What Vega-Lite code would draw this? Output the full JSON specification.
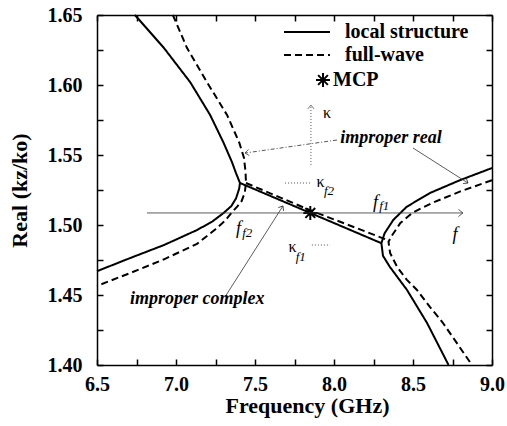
{
  "$schema": "https://vega.github.io/schema/vega-lite/v6.json",
  "width": 395,
  "height": 350,
  "autosize": "none",
  "padding": {"left": 97, "top": 15, "right": 15, "bottom": 61},
  "config": {
    "view": {"stroke": null},
    "font": "Liberation Serif",
    "axis": {"labelFont": "Liberation Serif", "titleFont": "Liberation Serif"},
    "legend": {"labelFont": "Liberation Serif"},
    "text": {"font": "Liberation Serif"}
  },
  "datasets": {
    "curves": [
      {"series": "local structure", "seg": "L", "i": 1, "f": 6.74, "v": 1.65},
      {"series": "local structure", "seg": "L", "i": 2, "f": 6.924, "v": 1.6264},
      {"series": "local structure", "seg": "L", "i": 3, "f": 7.09, "v": 1.602},
      {"series": "local structure", "seg": "L", "i": 4, "f": 7.216, "v": 1.5786},
      {"series": "local structure", "seg": "L", "i": 5, "f": 7.3, "v": 1.559},
      {"series": "local structure", "seg": "L", "i": 6, "f": 7.354, "v": 1.545},
      {"series": "local structure", "seg": "L", "i": 7, "f": 7.38, "v": 1.537},
      {"series": "local structure", "seg": "L", "i": 8, "f": 7.405, "v": 1.53},
      {"series": "local structure", "seg": "L", "i": 9, "f": 7.4, "v": 1.526},
      {"series": "local structure", "seg": "L", "i": 10, "f": 7.38, "v": 1.519},
      {"series": "local structure", "seg": "L", "i": 11, "f": 7.35, "v": 1.5135},
      {"series": "local structure", "seg": "L", "i": 12, "f": 7.3, "v": 1.5085},
      {"series": "local structure", "seg": "L", "i": 13, "f": 7.23, "v": 1.5025},
      {"series": "local structure", "seg": "L", "i": 14, "f": 7.133, "v": 1.4964},
      {"series": "local structure", "seg": "L", "i": 15, "f": 6.924, "v": 1.4857},
      {"series": "local structure", "seg": "L", "i": 16, "f": 6.71, "v": 1.4764},
      {"series": "local structure", "seg": "L", "i": 17, "f": 6.5, "v": 1.467},
      {"series": "local structure", "seg": "M", "i": 1, "f": 7.405, "v": 1.53},
      {"series": "local structure", "seg": "M", "i": 2, "f": 7.85, "v": 1.5086},
      {"series": "local structure", "seg": "M", "i": 3, "f": 8.3, "v": 1.487},
      {"series": "local structure", "seg": "R", "i": 1, "f": 9.0, "v": 1.5407},
      {"series": "local structure", "seg": "R", "i": 2, "f": 8.797, "v": 1.532},
      {"series": "local structure", "seg": "R", "i": 3, "f": 8.608, "v": 1.5229},
      {"series": "local structure", "seg": "R", "i": 4, "f": 8.46, "v": 1.513},
      {"series": "local structure", "seg": "R", "i": 5, "f": 8.375, "v": 1.5036},
      {"series": "local structure", "seg": "R", "i": 6, "f": 8.32, "v": 1.494},
      {"series": "local structure", "seg": "R", "i": 7, "f": 8.3, "v": 1.487},
      {"series": "local structure", "seg": "R", "i": 8, "f": 8.31, "v": 1.478},
      {"series": "local structure", "seg": "R", "i": 9, "f": 8.354, "v": 1.47},
      {"series": "local structure", "seg": "R", "i": 10, "f": 8.462, "v": 1.4536},
      {"series": "local structure", "seg": "R", "i": 11, "f": 8.589, "v": 1.43},
      {"series": "local structure", "seg": "R", "i": 12, "f": 8.725, "v": 1.4},
      {"series": "full-wave", "seg": "L", "i": 1, "f": 6.98, "v": 1.65},
      {"series": "full-wave", "seg": "L", "i": 2, "f": 7.07, "v": 1.6264},
      {"series": "full-wave", "seg": "L", "i": 3, "f": 7.196, "v": 1.602},
      {"series": "full-wave", "seg": "L", "i": 4, "f": 7.323, "v": 1.5786},
      {"series": "full-wave", "seg": "L", "i": 5, "f": 7.4, "v": 1.559},
      {"series": "full-wave", "seg": "L", "i": 6, "f": 7.43, "v": 1.548},
      {"series": "full-wave", "seg": "L", "i": 7, "f": 7.44, "v": 1.538},
      {"series": "full-wave", "seg": "L", "i": 8, "f": 7.443, "v": 1.53},
      {"series": "full-wave", "seg": "L", "i": 9, "f": 7.435, "v": 1.523},
      {"series": "full-wave", "seg": "L", "i": 10, "f": 7.415, "v": 1.517},
      {"series": "full-wave", "seg": "L", "i": 11, "f": 7.39, "v": 1.5135},
      {"series": "full-wave", "seg": "L", "i": 12, "f": 7.35, "v": 1.5085},
      {"series": "full-wave", "seg": "L", "i": 13, "f": 7.31, "v": 1.503},
      {"series": "full-wave", "seg": "L", "i": 14, "f": 7.25, "v": 1.497},
      {"series": "full-wave", "seg": "L", "i": 15, "f": 7.133, "v": 1.4865},
      {"series": "full-wave", "seg": "L", "i": 16, "f": 6.924, "v": 1.4755},
      {"series": "full-wave", "seg": "L", "i": 17, "f": 6.71, "v": 1.4657},
      {"series": "full-wave", "seg": "L", "i": 18, "f": 6.5, "v": 1.4565},
      {"series": "full-wave", "seg": "M", "i": 1, "f": 7.443, "v": 1.53},
      {"series": "full-wave", "seg": "M", "i": 2, "f": 7.85, "v": 1.5105},
      {"series": "full-wave", "seg": "M", "i": 3, "f": 8.345, "v": 1.489},
      {"series": "full-wave", "seg": "R", "i": 1, "f": 9.0, "v": 1.532},
      {"series": "full-wave", "seg": "R", "i": 2, "f": 8.8, "v": 1.524},
      {"series": "full-wave", "seg": "R", "i": 3, "f": 8.627, "v": 1.516},
      {"series": "full-wave", "seg": "R", "i": 4, "f": 8.5, "v": 1.509},
      {"series": "full-wave", "seg": "R", "i": 5, "f": 8.42, "v": 1.5014},
      {"series": "full-wave", "seg": "R", "i": 6, "f": 8.367, "v": 1.4925},
      {"series": "full-wave", "seg": "R", "i": 7, "f": 8.345, "v": 1.488},
      {"series": "full-wave", "seg": "R", "i": 8, "f": 8.355, "v": 1.48},
      {"series": "full-wave", "seg": "R", "i": 9, "f": 8.4, "v": 1.47},
      {"series": "full-wave", "seg": "R", "i": 10, "f": 8.46, "v": 1.461},
      {"series": "full-wave", "seg": "R", "i": 11, "f": 8.525, "v": 1.4536},
      {"series": "full-wave", "seg": "R", "i": 12, "f": 8.608, "v": 1.4414},
      {"series": "full-wave", "seg": "R", "i": 13, "f": 8.69, "v": 1.43},
      {"series": "full-wave", "seg": "R", "i": 14, "f": 8.873, "v": 1.4}
    ]
  },
  "layer": [
    {
      "data": {"name": "curves"},
      "mark": {"type": "line", "color": "black", "strokeWidth": 2},
      "encoding": {
        "x": {
          "field": "f", "type": "quantitative",
          "scale": {"domain": [6.5, 9.0], "nice": false, "zero": false},
          "axis": {
            "orient": "bottom",
            "values": [6.5, 6.75, 7, 7.25, 7.5, 7.75, 8, 8.25, 8.5, 8.75, 9],
            "labelExpr": "(round(datum.value*100) % 50 == 0) ? format(datum.value,'.1f') : ''",
            "tickSize": -6, "tickColor": "black", "tickWidth": 1.5,
            "domainColor": "black", "domainWidth": 1.5, "grid": false,
            "labelFont": "Liberation Serif", "labelFontSize": 20, "labelFontWeight": "bold", "labelColor": "black",
            "labelPadding": 15, "labelOverlap": false, "labelFlush": false,
            "title": "Frequency (GHz)", "titleFont": "Liberation Serif", "titleFontSize": 22, "titleFontWeight": "bold",
            "titleColor": "black", "titlePadding": 1, "titleX": 210, "titleAlign": "center"
          }
        },
        "y": {
          "field": "v", "type": "quantitative",
          "scale": {"domain": [1.4, 1.65], "nice": false, "zero": false},
          "axis": {
            "orient": "left",
            "values": [1.4, 1.425, 1.45, 1.475, 1.5, 1.525, 1.55, 1.575, 1.6, 1.625, 1.65],
            "labelExpr": "(round(datum.value*1000) % 50 == 0) ? format(datum.value,'.2f') : ''",
            "tickSize": -6, "tickColor": "black", "tickWidth": 1.5,
            "domainColor": "black", "domainWidth": 1.5, "grid": false,
            "labelFont": "Liberation Serif", "labelFontSize": 20, "labelFontWeight": "bold", "labelColor": "black",
            "labelPadding": 21, "labelOverlap": false, "labelFlush": false,
            "title": "Real (kz/ko)", "titleFont": "Liberation Serif", "titleFontSize": 22, "titleFontWeight": "bold",
            "titleColor": "black", "titlePadding": 16
          }
        },
        "detail": {"field": "seg"},
        "order": {"field": "i", "type": "quantitative"},
        "strokeDash": {
          "field": "series", "type": "nominal",
          "scale": {"domain": ["local structure", "full-wave"], "range": [[1, 0], [7, 4]]},
          "legend": {
            "title": null, "orient": "none", "legendX": 200, "legendY": 7,
            "symbolType": "M-3,0L3,0", "symbolSize": 235, "symbolStrokeWidth": 2, "symbolStrokeColor": "black", "symbolFillColor": "transparent",
            "labelFont": "Liberation Serif", "labelFontSize": 20, "labelFontWeight": "bold", "labelColor": "black",
            "labelOffset": 28, "rowPadding": 3, "padding": 0
          }
        }
      }
    },
    {
      "data": {"values": [{"f": 7.85, "v": 1.5086, "label": "MCP"}]},
      "mark": {"type": "point", "filled": false, "stroke": "black", "strokeWidth": 2, "size": 196, "opacity": 1},
      "encoding": {
        "x": {
          "field": "f", "type": "quantitative",
          "axis": {
            "orient": "top", "values": [6.5, 6.75, 7, 7.25, 7.5, 7.75, 8, 8.25, 8.5, 8.75, 9],
            "labels": false, "title": null, "tickSize": -6, "tickColor": "black", "tickWidth": 1.5,
            "domainColor": "black", "domainWidth": 1.5, "grid": false
          }
        },
        "y": {
          "field": "v", "type": "quantitative",
          "axis": {
            "orient": "right", "values": [1.4, 1.425, 1.45, 1.475, 1.5, 1.525, 1.55, 1.575, 1.6, 1.625, 1.65],
            "labels": false, "title": null, "tickSize": -6, "tickColor": "black", "tickWidth": 1.5,
            "domainColor": "black", "domainWidth": 1.5, "grid": false
          }
        },
        "shape": {
          "field": "label", "type": "nominal",
          "scale": {"domain": ["MCP"], "range": ["M-1,0L1,0M0,-1L0,1M-0.7,-0.7L0.7,0.7M-0.7,0.7L0.7,-0.7"]},
          "legend": {
            "title": null, "orient": "none", "legendX": 216, "legendY": 55,
            "symbolSize": 196, "symbolStrokeWidth": 2, "symbolStrokeColor": "black", "symbolFillColor": "transparent",
            "labelFont": "Liberation Serif", "labelFontSize": 20, "labelFontWeight": "bold", "labelColor": "black",
            "labelOffset": 0, "padding": 0
          }
        }
      }
    },
    {
      "data": {"values": [
        {"a": "f", "i": 1, "f": 6.816, "v": 1.5086}, {"a": "f", "i": 2, "f": 8.816, "v": 1.5086},
        {"a": "ic", "i": 1, "f": 7.31, "v": 1.4486}, {"a": "ic", "i": 2, "f": 7.677, "v": 1.5136},
        {"a": "ir", "i": 1, "f": 8.5, "v": 1.555}, {"a": "ir", "i": 2, "f": 8.848, "v": 1.53}
      ]},
      "mark": {"type": "line", "color": "#333333", "strokeWidth": 0.8},
      "encoding": {
        "x": {"field": "f", "type": "quantitative", "axis": null},
        "y": {"field": "v", "type": "quantitative", "axis": null},
        "detail": {"field": "a"},
        "order": {"field": "i", "type": "quantitative"}
      }
    },
    {
      "data": {"values": [
        {"a": "k", "i": 1, "f": 7.854, "v": 1.5429}, {"a": "k", "i": 2, "f": 7.854, "v": 1.5857},
        {"a": "kf2", "i": 1, "f": 7.69, "v": 1.53}, {"a": "kf2", "i": 2, "f": 7.848, "v": 1.53},
        {"a": "kf1", "i": 1, "f": 7.86, "v": 1.4857}, {"a": "kf1", "i": 2, "f": 7.975, "v": 1.4857}
      ]},
      "mark": {"type": "line", "color": "#555555", "strokeWidth": 1, "strokeDash": [1, 2]},
      "encoding": {
        "x": {"field": "f", "type": "quantitative", "axis": null},
        "y": {"field": "v", "type": "quantitative", "axis": null},
        "detail": {"field": "a"},
        "order": {"field": "i", "type": "quantitative"}
      }
    },
    {
      "data": {"values": [
        {"a": "dd", "i": 1, "f": 8.019, "v": 1.5607}, {"a": "dd", "i": 2, "f": 7.437, "v": 1.5514}
      ]},
      "mark": {"type": "line", "color": "#444444", "strokeWidth": 0.9, "strokeDash": [4, 2, 1, 2]},
      "encoding": {
        "x": {"field": "f", "type": "quantitative", "axis": null},
        "y": {"field": "v", "type": "quantitative", "axis": null},
        "detail": {"field": "a"},
        "order": {"field": "i", "type": "quantitative"}
      }
    },
    {
      "data": {"values": [{"f": 8.816, "v": 1.5086}]},
      "mark": {"type": "point", "shape": "M-1,-0.8L0,0L-1,0.8", "filled": false, "stroke": "#333333", "strokeWidth": 0.8, "size": 80, "angle": 0, "opacity": 1},
      "encoding": {"x": {"field": "f", "type": "quantitative", "axis": null}, "y": {"field": "v", "type": "quantitative", "axis": null}}
    },
    {
      "data": {"values": [{"f": 7.854, "v": 1.5857}]},
      "mark": {"type": "point", "shape": "M-1,-0.8L0,0L-1,0.8", "filled": false, "stroke": "#555555", "strokeWidth": 0.8, "size": 60, "angle": 270, "opacity": 1},
      "encoding": {"x": {"field": "f", "type": "quantitative", "axis": null}, "y": {"field": "v", "type": "quantitative", "axis": null}}
    },
    {
      "data": {"values": [{"f": 7.437, "v": 1.5514}]},
      "mark": {"type": "point", "shape": "M-1,-0.8L0,0L-1,0.8", "filled": false, "stroke": "#444444", "strokeWidth": 0.8, "size": 60, "angle": 172, "opacity": 1},
      "encoding": {"x": {"field": "f", "type": "quantitative", "axis": null}, "y": {"field": "v", "type": "quantitative", "axis": null}}
    },
    {
      "data": {"values": [{"f": 8.848, "v": 1.53}]},
      "mark": {"type": "point", "shape": "M-1,-0.8L0,0L-1,0.8", "filled": false, "stroke": "#333333", "strokeWidth": 0.8, "size": 60, "angle": 32, "opacity": 1},
      "encoding": {"x": {"field": "f", "type": "quantitative", "axis": null}, "y": {"field": "v", "type": "quantitative", "axis": null}}
    },
    {
      "data": {"values": [{"f": 7.677, "v": 1.5136}]},
      "mark": {"type": "point", "shape": "M-1,-0.8L0,0L-1,0.8", "filled": false, "stroke": "#333333", "strokeWidth": 0.8, "size": 60, "angle": 302, "opacity": 1},
      "encoding": {"x": {"field": "f", "type": "quantitative", "axis": null}, "y": {"field": "v", "type": "quantitative", "axis": null}}
    },
    {
      "data": {"values": [
        {"f": 8.04, "v": 1.5625, "t": "improper real"},
        {"f": 6.709, "v": 1.4471, "t": "improper complex"}
      ]},
      "mark": {"type": "text", "align": "left", "baseline": "middle", "font": "Liberation Serif", "fontSize": 18, "fontWeight": "bold", "fontStyle": "italic", "color": "black"},
      "encoding": {"x": {"field": "f", "type": "quantitative", "axis": null}, "y": {"field": "v", "type": "quantitative", "axis": null}, "text": {"field": "t"}}
    },
    {
      "data": {"values": [
        {"f": 8.766, "v": 1.493, "t": "f"},
        {"f": 8.263, "v": 1.5154, "t": "f"},
        {"f": 7.396, "v": 1.4968, "t": "f"}
      ]},
      "mark": {"type": "text", "align": "center", "baseline": "middle", "font": "Liberation Serif", "fontSize": 18, "fontStyle": "italic", "color": "black"},
      "encoding": {"x": {"field": "f", "type": "quantitative", "axis": null}, "y": {"field": "v", "type": "quantitative", "axis": null}, "text": {"field": "t"}}
    },
    {
      "data": {"values": [
        {"f": 8.318, "v": 1.5135, "t": "f1"},
        {"f": 7.451, "v": 1.4945, "t": "f2"},
        {"f": 7.968, "v": 1.5243, "t": "f2"},
        {"f": 7.79, "v": 1.4775, "t": "f1"}
      ]},
      "mark": {"type": "text", "align": "center", "baseline": "middle", "font": "Liberation Serif", "fontSize": 13, "fontStyle": "italic", "color": "black"},
      "encoding": {"x": {"field": "f", "type": "quantitative", "axis": null}, "y": {"field": "v", "type": "quantitative", "axis": null}, "text": {"field": "t"}}
    },
    {
      "data": {"values": [
        {"f": 7.956, "v": 1.58, "t": "κ"},
        {"f": 7.915, "v": 1.531, "t": "κ"},
        {"f": 7.737, "v": 1.484, "t": "κ"}
      ]},
      "mark": {"type": "text", "align": "center", "baseline": "middle", "font": "Liberation Serif", "fontSize": 16, "color": "black"},
      "encoding": {"x": {"field": "f", "type": "quantitative", "axis": null}, "y": {"field": "v", "type": "quantitative", "axis": null}, "text": {"field": "t"}}
    }
  ],
  "resolve": {"axis": {"x": "independent", "y": "independent"}}
}
